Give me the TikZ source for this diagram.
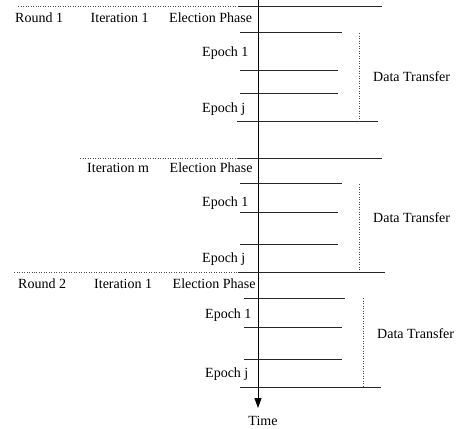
\documentclass[tikz,border=0pt]{standalone}
\usepackage{fontspec}
\setmainfont{Liberation Serif}
\usetikzlibrary{arrows.meta}
\tikzset{
  x=1pt, y=-1pt,
  lbl/.style={inner sep=0pt, font=\fontsize{14}{16}\selectfont, text=black},
  lbw/.style={lbl, anchor=base west},
  hline/.style={draw=black!85, line width=0.9pt},
  dotline/.style={draw=black!70, line width=0.9pt, dash pattern=on 0.8pt off 1.7pt},
  axisline/.style={draw=black, line width=1pt, -{Triangle[length=10pt,width=7pt]}}
}
\begin{document}
\begin{tikzpicture}
\useasboundingbox (0,0) rectangle (456,429);
% axis
\coordinate (atop) at (258,0);
\coordinate (abot) at (258,408);
\draw[axisline] (atop) -- (abot);
\node[lbl, anchor=base] (time) at (263,425) {Time};

% ---------- Round 1, Iteration 1
\coordinate (r1a) at (18,6); \coordinate (r1b) at (238,6); \coordinate (r1c) at (382,6);
\draw[dotline] (r1a) -- (r1b);
\draw[hline] (r1b) -- (r1c);
\node[lbw] (round1) at (15,22.5) {Round 1};
\node[lbw] (it1a) at (90.5,22.5) {Iteration 1};
\node[lbw] (el1) at (169,22.5) {Election Phase};
\coordinate (a1) at (240,32); \coordinate (a2) at (342,32);
\coordinate (b1) at (240,70); \coordinate (b2) at (338,70);
\coordinate (c1) at (240,93); \coordinate (c2) at (338,93);
\coordinate (d1) at (237,121); \coordinate (d2) at (378,121);
\draw[hline] (a1) -- (a2);
\draw[hline] (b1) -- (b2);
\draw[hline] (c1) -- (c2);
\draw[hline] (d1) -- (d2);
\coordinate (v1a) at (359,33); \coordinate (v1b) at (359,121);
\draw[dotline] (v1a) -- (v1b);
\node[lbw] (ep1a) at (202,56.5) {Epoch 1};
\node[lbw] (epja) at (202,112) {Epoch j};
\node[lbw] (dt1) at (373,81.5) {Data Transfer};

% ---------- Iteration m
\coordinate (m1a) at (80,158); \coordinate (m1b) at (238,158); \coordinate (m1c) at (382,158);
\draw[dotline] (m1a) -- (m1b);
\draw[hline] (m1b) -- (m1c);
\node[lbw] (itm) at (87,172.5) {Iteration m};
\node[lbw] (el2) at (169.5,172.5) {Election Phase};
\coordinate (e1) at (240,183); \coordinate (e2) at (342,183);
\coordinate (f1) at (240,212); \coordinate (f2) at (338,212);
\coordinate (g1) at (240,244); \coordinate (g2) at (338,244);
\draw[hline] (e1) -- (e2);
\draw[hline] (f1) -- (f2);
\draw[hline] (g1) -- (g2);
\coordinate (v2a) at (359,184); \coordinate (v2b) at (359,272);
\draw[dotline] (v2a) -- (v2b);
\node[lbw] (ep1b) at (202,206) {Epoch 1};
\node[lbw] (epjb) at (202,262) {Epoch j};
\node[lbw] (dt2) at (373,222.5) {Data Transfer};

% ---------- Round 2, Iteration 1
\coordinate (r2a) at (14,272.5); \coordinate (r2b) at (238,272.5); \coordinate (r2c) at (385,272.5);
\draw[dotline] (r2a) -- (r2b);
\draw[hline] (r2b) -- (r2c);
\node[lbw] (round2) at (18,288) {Round 2};
\node[lbw] (it1b) at (94,288) {Iteration 1};
\node[lbw] (el3) at (172.5,288) {Election Phase};
\coordinate (h1) at (244,298); \coordinate (h2) at (345,298);
\coordinate (i1) at (244,327); \coordinate (i2) at (342,327);
\coordinate (j1) at (244,359); \coordinate (j2) at (342,359);
\coordinate (k1) at (240,387); \coordinate (k2) at (381,387);
\draw[hline] (h1) -- (h2);
\draw[hline] (i1) -- (i2);
\draw[hline] (j1) -- (j2);
\draw[hline] (k1) -- (k2);
\coordinate (v3a) at (363,298); \coordinate (v3b) at (363,387);
\draw[dotline] (v3a) -- (v3b);
\node[lbw] (ep1c) at (205,318) {Epoch 1};
\node[lbw] (epjc) at (205,377) {Epoch j};
\node[lbw] (dt3) at (377,338) {Data Transfer};
\end{tikzpicture}
\end{document}
